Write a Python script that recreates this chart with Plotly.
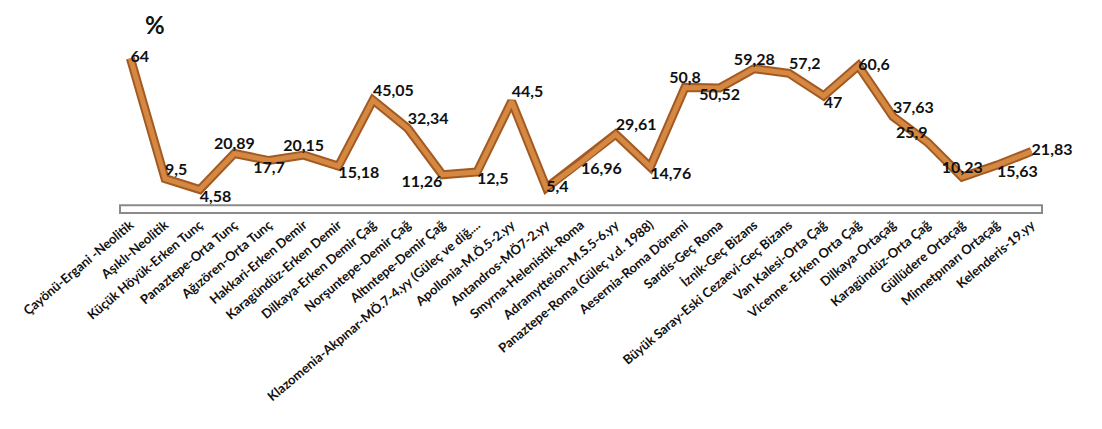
import plotly.graph_objects as go

# Sites / periods along the horizontal axis
sites = [
    "Çayönü-Ergani -Neolitik",
    "Aşıklı-Neolitik",
    "Küçük Höyük-Erken Tunç",
    "Panaztepe-Orta Tunç",
    "Ağızören-Orta Tunç",
    "Hakkari-Erken Demir",
    "Karagündüz-Erken Demir",
    "Dilkaya-Erken Demir Çağ",
    "Norşuntepe-Demir Çağ",
    "Altıntepe-Demir Çağ",
    "Klazomenia-Akpınar-MÖ.7-4.yy (Güleç ve diğ....",
    "Apollonia-M.Ö.5-2.yy",
    "Antandros-MÖ7-2.yy",
    "Smyrna-Helenistik-Roma",
    "Adramytteion-M.S.5-6.yy",
    "Panaztepe-Roma (Güleç v.d. 1988)",
    "Aesernia-Roma Dönemi",
    "Sardis-Geç Roma",
    "İznik-Geç Bizans",
    "Büyük Saray-Eski Cezaevi-Geç Bizans",
    "Van Kalesi-Orta Çağ",
    "Vicenne -Erken Orta Çağ",
    "Dilkaya-Ortaçağ",
    "Karagündüz-Orta Çağ",
    "Güllüdere Ortaçağ",
    "Minnetpınarı Ortaçağ",
    "Kelenderis-19.yy",
]

# Percentage per site
percent = [
    64, 9.5, 4.58, 20.89, 17.7, 20.15, 15.18, 45.05, 32.34, 11.26,
    12.5, 44.5, 5.4, 16.96, 29.61, 14.76, 50.8, 50.52, 59.28, 57.2,
    47, 60.6, 37.63, 25.9, 10.23, 15.63, 21.83,
]

labels = [f"{v:g}".replace(".", ",") for v in percent]

# Where each value label sits relative to its point
label_pos = [
    "middle right", "top right", "bottom right", "top center", "bottom center",
    "top center", "bottom right", "top right", "top right", "bottom left",
    "bottom right", "top right", "middle right", "bottom right", "top right",
    "bottom right", "top center", "bottom center", "top center", "top right",
    "bottom right", "middle right", "top right", "top left", "top center",
    "bottom right", "middle right",
]

FONT = "Lato, 'Open Sans', sans-serif"
copper_dark = "#a35a22"
copper = "#d48842"

fig = go.Figure()

# shaded edge of the ribbon
fig.add_trace(go.Scatter(
    x=sites, y=percent, mode="lines",
    line=dict(color=copper_dark, width=9),
    hoverinfo="skip", showlegend=False,
))
# lit face of the ribbon, with the value labels
fig.add_trace(go.Scatter(
    x=sites, y=percent, mode="lines+text",
    line=dict(color=copper, width=5),
    text=[f"<b>{t}</b>" for t in labels], textposition=label_pos,
    textfont=dict(family=FONT, size=16, color="#111111"),
    cliponaxis=False, showlegend=False,
))

# floor slab under the series
fig.add_shape(type="rect", xref="x domain", yref="y",
              x0=0.0, x1=1.0, y0=-6, y1=-2.5,
              line=dict(color="#8a8a8a", width=2), fillcolor="white", layer="below")

fig.add_annotation(text="<b>%</b>", xref="paper", yref="paper",
                   x=0.025, y=1.22, xanchor="left", yanchor="top",
                   showarrow=False,
                   font=dict(family=FONT, size=24, color="#111111"))

fig.update_layout(
    width=1102, height=429,
    margin=dict(l=120, r=60, t=45, b=215),
    paper_bgcolor="white", plot_bgcolor="white",
    font=dict(family=FONT, color="#111111"),
)
fig.update_xaxes(
    type="category", range=[-0.3, 26.3],
    tickmode="array", tickvals=sites, ticktext=[f"<b>{s}</b>" for s in sites],
    tickangle=-40, showgrid=False, zeroline=False, showline=False,
    ticks="", tickfont=dict(size=13, family=FONT, color="#111111"),
)
fig.update_yaxes(range=[-6.5, 70], visible=False, showgrid=False)

fig.write_html("out.html")
